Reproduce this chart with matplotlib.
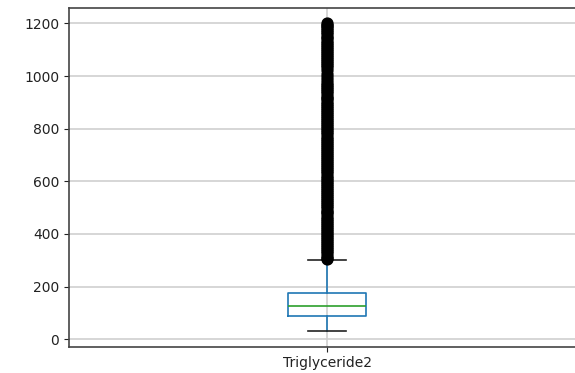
import matplotlib
matplotlib.use("Agg")
import matplotlib.pyplot as plt

# Summary statistics of the Triglyceride2 column
column_name = "Triglyceride2"
whisker_low = 30
q1 = 89
median = 125
q3 = 176
whisker_high = 300

# Outliers above the upper whisker
outliers = [303, 310, 318, 326, 334, 341, 349, 357, 365, 372, 380, 388, 396,
            404, 411, 419, 427, 435, 443, 450, 458, 466, 474, 482, 489, 497,
            505, 513, 521, 528, 536, 544, 552, 560, 567, 575, 583, 591, 599,
            606, 614, 622, 630, 638, 645, 653, 661, 669, 677, 684, 692, 700,
            708, 716, 723, 731, 739, 747, 755, 762, 770, 778, 786, 794, 801,
            809, 817, 825, 833, 840, 848, 856, 864, 872, 879, 887, 895, 903,
            911, 918, 926, 934, 942, 950, 957, 965, 973, 984, 996, 1008,
            1022, 1033, 1041, 1049, 1057, 1065, 1072, 1080, 1088, 1096, 1104,
            1111, 1119, 1127, 1135, 1143, 1150, 1158, 1166, 1174, 1182, 1189,
            1195, 1200]

stats = [{
    "label": column_name,
    "whislo": whisker_low,
    "q1": q1,
    "med": median,
    "q3": q3,
    "whishi": whisker_high,
    "fliers": outliers,
}]

fig = plt.figure(figsize=(5.75, 3.73), dpi=100)
ax = fig.add_axes([0.12, 0.0705, 0.8974, 0.908])

blue = "#1f77b4"
ax.bxp(
    stats,
    positions=[1],
    widths=0.151,
    boxprops=dict(color=blue, linewidth=1.2),
    whiskerprops=dict(color=blue, linewidth=1.2),
    capprops=dict(color="#222222", linewidth=1.2),
    medianprops=dict(color="#2ca02c", linewidth=1.2),
    flierprops=dict(marker="o", markerfacecolor="black",
                    markeredgecolor="black", markersize=7.8),
)

ax.set_xlim(0.5, 1.5)
ax.set_ylim(-28.5, 1258.5)
ax.set_yticks([0, 200, 400, 600, 800, 1000, 1200])
ax.grid(True, color="#cfcfcf", linewidth=1.2)
ax.set_axisbelow(True)
ax.tick_params(labelsize=10, colors="#222222")
for sp in ax.spines.values():
    sp.set_color("#444444")
    sp.set_linewidth(1.2)

fig.savefig("out.png", dpi=100)
